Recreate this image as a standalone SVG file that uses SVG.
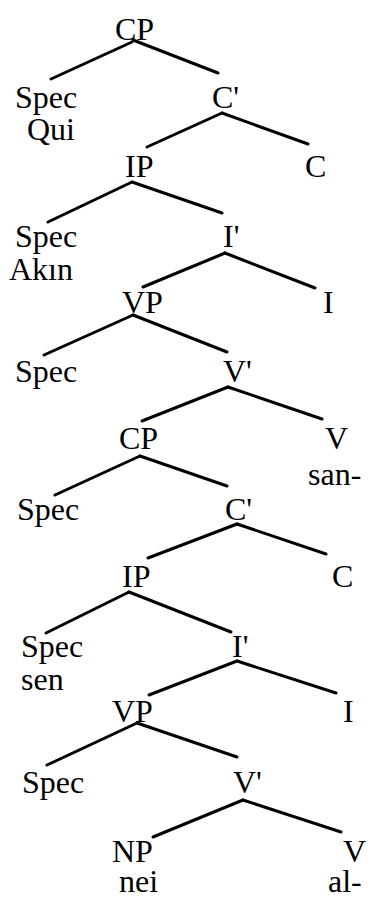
<svg xmlns="http://www.w3.org/2000/svg" width="375" height="900" viewBox="0 0 375 900">
<style>
#edges line{stroke:#000;stroke-width:3;stroke-linecap:round}
</style>
<rect width="375" height="900" fill="#fff"/>
<g id="edges">
<line x1="132" y1="42" x2="51" y2="79"/><line x1="133" y1="40" x2="218" y2="73"/>
<line x1="222" y1="113" x2="147" y2="147"/><line x1="222" y1="113" x2="308" y2="144"/>
<line x1="132" y1="182" x2="48" y2="222"/><line x1="132" y1="182" x2="222" y2="213"/>
<line x1="225" y1="253" x2="143" y2="287"/><line x1="225" y1="253" x2="315" y2="288"/>
<line x1="133" y1="315" x2="44" y2="355"/><line x1="133" y1="315" x2="227" y2="352"/>
<line x1="228" y1="387" x2="142" y2="421"/><line x1="228" y1="387" x2="322" y2="419"/>
<line x1="140" y1="456" x2="55" y2="495"/><line x1="140" y1="456" x2="227" y2="486"/>
<line x1="237" y1="524" x2="148" y2="558"/><line x1="237" y1="524" x2="326" y2="554"/>
<line x1="129" y1="592" x2="46" y2="633"/><line x1="129" y1="592" x2="231" y2="632"/>
<line x1="237" y1="661" x2="149" y2="695"/><line x1="237" y1="661" x2="336" y2="693"/>
<line x1="137" y1="723" x2="47" y2="765"/><line x1="137" y1="723" x2="237" y2="757"/>
<line x1="243" y1="800" x2="153" y2="837"/><line x1="243" y1="800" x2="341" y2="832"/>
</g>
<g font-family="'Liberation Serif', serif" font-size="32" fill="#000">
<g id="n1"><text x="115" y="40">CP</text></g>
<g id="n2"><text x="15" y="108">Spec</text><text x="27" y="140">Qui</text></g>
<g id="n3"><text x="212" y="108">C'</text></g>
<g id="n4"><text x="125" y="177">IP</text></g>
<g id="n5"><text x="305" y="177">C</text></g>
<g id="n6"><text x="15" y="247">Spec</text><text x="9" y="280">Akın</text></g>
<g id="n7"><text x="223" y="247">I'</text></g>
<g id="n8"><text x="122" y="313">VP</text></g>
<g id="n9"><text x="323" y="313">I</text></g>
<g id="n10"><text x="15" y="382">Spec</text></g>
<g id="n11"><text x="223" y="382">V'</text></g>
<g id="n12"><text x="119" y="449">CP</text></g>
<g id="n13"><text x="325" y="449">V</text><text x="308" y="485">san-</text></g>
<g id="n14"><text x="17" y="520">Spec</text></g>
<g id="n15"><text x="225" y="520">C'</text></g>
<g id="n16"><text x="122" y="587">IP</text></g>
<g id="n17"><text x="332" y="587">C</text></g>
<g id="n18"><text x="21" y="657">Spec</text><text x="21" y="690">sen</text></g>
<g id="n19"><text x="232" y="657">I'</text></g>
<g id="n20"><text x="112" y="722">VP</text></g>
<g id="n21"><text x="343" y="722">I</text></g>
<g id="n22"><text x="22" y="793">Spec</text></g>
<g id="n23"><text x="233" y="793">V'</text></g>
<g id="n24"><text x="112" y="862">NP</text><text x="119" y="892">nei</text></g>
<g id="n25"><text x="343" y="862">V</text><text x="328" y="892">al-</text></g>
</g>
</svg>
